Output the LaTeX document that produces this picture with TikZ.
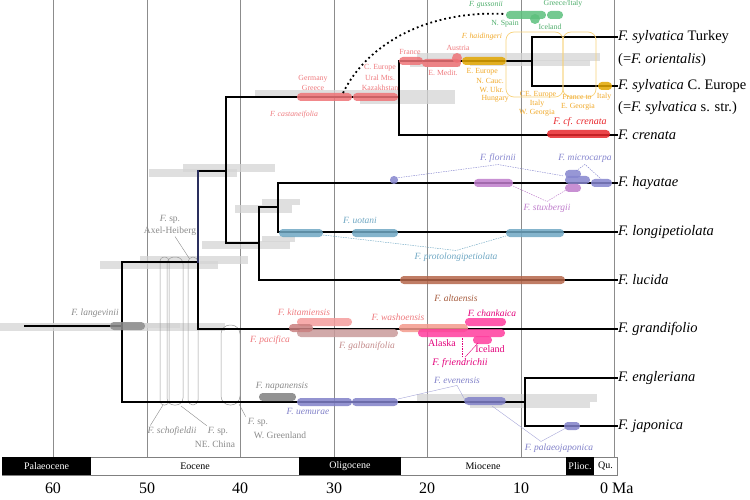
\documentclass[tikz,border=0pt]{standalone}
\usepackage{fontspec}
\setmainfont{Liberation Serif}
\definecolor{castc}{HTML}{EF7377}
\definecolor{castT}{HTML}{EE7A7E}
\definecolor{goldc}{HTML}{E2A600}
\definecolor{goldT}{HTML}{F0A92A}
\definecolor{goldB}{HTML}{F7D27A}
\definecolor{grnc}{HTML}{5CBF7C}
\definecolor{grnT}{HTML}{4FAE6C}
\definecolor{crenc}{HTML}{E8262B}
\definecolor{hayc}{HTML}{8585CE}
\definecolor{stuxc}{HTML}{BE7CCB}
\definecolor{lonc}{HTML}{6FA7C3}
\definecolor{altc}{HTML}{B5664A}
\definecolor{altT}{HTML}{A55A3C}
\definecolor{kitc}{HTML}{F59C9C}
\definecolor{pacc}{HTML}{C97F7F}
\definecolor{galc}{HTML}{C99A9A}
\definecolor{galT}{HTML}{C48C8C}
\definecolor{washc}{HTML}{F39A8C}
\definecolor{pinkc}{HTML}{FF3C9E}
\definecolor{pinkT}{HTML}{E2007A}
\definecolor{uemc}{HTML}{8080C8}
\definecolor{grayT}{HTML}{8A8A8A}
\definecolor{navyc}{HTML}{2A2F5E}
\newcommand\FBar[5][]{\fill[#2,opacity=0.85,rounded corners=3.8pt,#1] (#3,#5-4) rectangle (#4,#5+4);}
\newcommand\CBar[4]{\fill[black!17,opacity=0.75] (#1,#3-#4/2) rectangle (#2,#3+#4/2);}
\begin{document}
\begin{tikzpicture}[x=1pt,y=-1pt,
  gline/.style={draw=black!45,line width=0.9pt},
  branch/.style={line width=2.4pt,line cap=rect,line join=miter},
  lab/.style={inner sep=0pt,font=\fontsize{9.5}{10}\selectfont},
  slab/.style={inner sep=0pt,font=\fontsize{7.8}{8.5}\selectfont},
  tiplab/.style={anchor=west,inner sep=1pt,font=\fontsize{14.5}{16}\selectfont},
  erat/.style={inner sep=0pt,font=\fontsize{10}{11}\selectfont},
  ticklab/.style={inner sep=0pt,font=\fontsize{16}{17}\selectfont},
  lead/.style={line width=0.45pt,dash pattern=on 1.5pt off 1pt},
  leads/.style={line width=0.4pt},
]
\useasboundingbox (0,0) rectangle (750,500);
% grid lines
\foreach \x in {53,147,240,334,427,521,614} \draw[gline] (\x,0) -- (\x,457);
% time bar
\draw[black!50,line width=0.8pt] (2,457) rectangle (617,475);
\fill[black] (2,457) rectangle (91,475);
\fill[black] (299,457) rectangle (401,475);
\fill[black] (566,457) rectangle (594,475);
\node[erat,text=white] (ePal) at (46.5,466) {Palaeocene};
\node[erat] (eEoc) at (195,466) {Eocene};
\node[erat,text=white] (eOli) at (350,466) {Oligocene};
\node[erat] (eMio) at (483,466) {Miocene};
\node[erat,text=white] (ePli) at (580,466) {Plioc.};
\node[erat] (eQu) at (605.5,466) {Qu.};
\node[ticklab] (k60) at (53,488) {60};
\node[ticklab] (k50) at (147,488) {50};
\node[ticklab] (k40) at (240,488) {40};
\node[ticklab] (k30) at (334,488) {30};
\node[ticklab] (k20) at (427,488) {20};
\node[ticklab] (k10) at (521,488) {10};
\node[ticklab,anchor=west] (k0) at (600,488) {0 Ma};
% grey confidence bars
\CBar{0}{225}{327}{8}
\CBar{40}{180}{325}{5}
\CBar{100}{218}{265}{8}
\CBar{140}{248}{260}{8}
\CBar{149}{237}{173}{8}
\CBar{183}{275}{168}{8}
\CBar{255}{455}{94}{7}
\CBar{360}{455}{101}{7}
\CBar{417}{600}{57}{8}
\CBar{470}{590}{63}{6}
\CBar{410}{460}{64}{6}
\CBar{235}{292}{209}{8}
\CBar{262}{300}{202}{6}
\CBar{202}{290}{245}{8}
\CBar{262}{295}{239}{6}
\CBar{417}{597}{398}{8}
\CBar{470}{590}{405}{6}
% fossil site outlines
\draw[black!40,line width=0.5pt,rounded corners=4pt] (160,257) rectangle (169,405);
\draw[black!40,line width=0.5pt,rounded corners=7pt] (167,257) rectangle (183,405);
\draw[black!40,line width=0.5pt,rounded corners=5pt] (188,257) rectangle (198,405);
\draw[black!40,line width=0.5pt,rounded corners=9pt] (221,325) rectangle (240,405);
% tip labels
\node[tiplab] (tST) at (617,37) {\textit{F. sylvatica} Turkey};
\node[tiplab] (tST2) at (617,60) {(=\textit{F. orientalis})};
\node[tiplab] (tSC) at (617,86) {\textit{F. sylvatica} C. Europe};
\node[tiplab] (tSC2) at (617,108) {(=\textit{F. sylvatica} s. str.)};
\node[tiplab] (tCr) at (617,135) {\textit{F. crenata}};
\node[tiplab] (tHa) at (617,183) {\textit{F. hayatae}};
\node[tiplab] (tLo) at (617,232) {\textit{F. longipetiolata}};
\node[tiplab] (tLu) at (617,280) {\textit{F. lucida}};
\node[tiplab] (tGr) at (617,329) {\textit{F. grandifolio}};
\node[tiplab] (tEn) at (617,378) {\textit{F. engleriana}};
\node[tiplab] (tJa) at (617,426) {\textit{F. japonica}};
% tree coordinates
\coordinate (r0) at (25,326);
\coordinate (r1) at (122,326);
\coordinate (a1) at (122,262);
\coordinate (a2) at (122,402);
\coordinate (b1) at (198,171);
\coordinate (b0) at (198,262);
\coordinate (b2) at (198,329);
\coordinate (c0) at (226,171);
\coordinate (c1) at (226,97);
\coordinate (c2) at (226,243);
\coordinate (d0) at (399,97);
\coordinate (d1) at (399,61);
\coordinate (d2) at (399,135);
\coordinate (e0) at (532,61);
\coordinate (e1) at (532,37);
\coordinate (e2) at (532,86);
\coordinate (f0) at (259,243);
\coordinate (f1) at (259,207);
\coordinate (f2) at (259,280);
\coordinate (g0) at (278,207);
\coordinate (g1) at (278,183);
\coordinate (g2) at (278,232);
\coordinate (h0) at (525,402);
\coordinate (h1) at (525,378);
\coordinate (h2) at (525,426);
% tree
\draw[branch] (r0) -- (r1);
\draw[branch] (b0) -- (a1) -- (a2) -- (h0);
\draw[branch] (tEn.west) -- (h1) -- (h2) -- (tJa.west);
\draw[branch] (b0) -- (b2) -- (tGr.west);
\draw[branch] (b1) -- (c0);
\draw[branch,navyc] (b1) -- (b0);
\draw[branch] (d0) -- (c1) -- (c2) -- (f0);
\draw[branch] (tCr.west) -- (d2) -- (d1) -- (e0);
\draw[branch] (tST.west) -- (e1) -- (e2) -- (tSC.west);
\draw[branch] (g0) -- (f1) -- (f2) -- (tLu.west);
\draw[branch] (tHa.west) -- (g1) -- (g2) -- (tLo.west);
% langevinii
\FBar{black!45}{110}{145}{326}
% castaneifolia group
\FBar{castc}{297}{352}{97}
\FBar{castc}{353}{398}{97}
\FBar{castc}{399}{423}{61}
\FBar{castc}{422}{461}{63}
\fill[castc,opacity=0.85] (457,58) circle (5);
\FBar{goldc}{462}{506}{61}
\FBar{goldc}{598}{612}{86}
\draw[goldB,line width=0.7pt,rounded corners=8pt] (506,32) rectangle (563,97);
\draw[goldB,line width=0.7pt,rounded corners=8pt] (563,32) rectangle (596,97);
\FBar{grnc}{506}{546}{15}
\FBar{grnc}{547}{563}{15}
\fill[grnc,opacity=0.85] (535,19) circle (5);
\coordinate (gus0) at (343,93);
\coordinate (gus1) at (505,14);
\draw[line width=1.8pt,dash pattern=on 1.8pt off 3pt] (gus0) .. controls (368,42) and (430,10) .. (gus1);
\FBar{crenc}{547}{610}{134}
% hayatae
\FBar{hayc}{390}{398}{180}
\FBar{stuxc}{474}{513}{183}
\FBar{hayc}{565}{581}{174}
\FBar{hayc}{565}{590}{180}
\FBar{stuxc}{565}{581}{188}
\FBar{hayc}{591}{612}{183}
% longipetiolata
\FBar{lonc}{279}{323}{233}
\FBar{lonc}{352}{398}{233}
\FBar{lonc}{506}{564}{233}
% lucida
\FBar{altc}{400}{565}{280}
% grandifolia
\FBar{kitc}{297}{352}{322}
\FBar{galc}{297}{398}{333}
\FBar{pacc}{289}{313}{328}
\FBar{washc}{399}{468}{328}
\FBar{pinkc}{418}{505}{333}
\FBar{pinkc}{465}{506}{322}
\FBar{pinkc}{473}{492}{340}
% lower clade
\FBar{black!50}{259}{296}{397}
\FBar{uemc}{297}{352}{402}
\FBar{uemc}{352}{398}{402}
\FBar[rounded corners=4.5pt]{uemc}{464}{506}{401}
\FBar{uemc}{564}{580}{426}
% ---- labels ----
\node[slab,text=castT] (lGer) at (313,79) {Germany};
\node[slab,text=castT] (lGre) at (313,88) {Greece};
\node[slab,text=castT] (lCEu) at (380,68) {C. Europe};
\node[slab,text=castT] (lUra) at (380,78) {Ural Mts.};
\node[slab,text=castT] (lKaz) at (380,88) {Kazakhstan};
\node[slab,text=castT] (lFra) at (410,52) {France};
\node[slab,text=castT] (lAus) at (458,48) {Austria};
\node[slab,text=castT] (lEMe) at (443,73) {E. Medit.};
\node[slab,text=castT] (lcast) at (294,115) {\textit{F. castaneifolia}};
\node[slab,text=goldT] (lhaid) at (482,37) {\textit{F. haidingeri}};
\node[slab,text=goldT,anchor=east] (lEEu) at (498,72) {E. Europe};
\node[slab,text=goldT,anchor=east] (lNC) at (504,81) {N. Cauc.};
\node[slab,text=goldT,anchor=east] (lWU) at (504,90) {W. Ukr.};
\node[slab,text=goldT,anchor=east] (lHun) at (509,99) {Hungary};
\node[slab,text=goldT] (lCE) at (538,95) {CE. Europe};
\node[slab,text=goldT] (lIt1) at (537,104) {Italy};
\node[slab,text=goldT] (lWG) at (537,113) {W. Georgia};
\node[slab,text=goldT] (lFt) at (577,97) {France to};
\node[slab,text=goldT] (lEG) at (578,107) {E. Georgia};
\node[slab,text=goldT] (lIt2) at (604,97) {Italy};
\node[slab,text=grnT] (lgus) at (486,5) {\textit{F. gussonii}};
\node[slab,text=grnT] (lGI) at (563,4) {Greece/Italy};
\node[slab,text=grnT] (lNS) at (505,24) {N. Spain};
\node[slab,text=grnT] (lIc1) at (550,27) {Iceland};
\node[lab,font=\fontsize{10}{11}\selectfont,text=crenc] (lcren) at (580,122) {\textit{F. cf. crenata}};
\node[lab,text=hayc] (lflo) at (498,158) {\textit{F. florinii}};
\node[lab,text=hayc] (lmic) at (585,158) {\textit{F. microcarpa}};
\node[lab,text=stuxc] (lstux) at (547,208) {\textit{F. stuxbergii}};
\node[lab,text=lonc] (luot) at (360,220) {\textit{F. uotani}};
\node[lab,text=lonc] (lprot) at (456,257) {\textit{F. protolongipetiolata}};
\node[lab,text=altT] (lalt) at (456,298) {\textit{F. altaensis}};
\node[lab,text=castT] (lkit) at (304,312) {\textit{F. kitamiensis}};
\node[lab,text=castT] (lpac) at (270,340) {\textit{F. pacifica}};
\node[lab,text=galT] (lgal) at (367,346) {\textit{F. galbanifolia}};
\node[lab,text=castT] (lwas) at (398,317) {\textit{F. washoensis}};
\node[lab,text=pinkT] (lcha) at (492,313) {\textit{F. chankaica}};
\node[lab,font=\fontsize{10}{11}\selectfont,text=pinkT] (lAla) at (442,343) {Alaska};
\node[lab,font=\fontsize{10}{11}\selectfont,text=pinkT] (lIc2) at (490,349) {Iceland};
\node[lab,font=\fontsize{10}{11}\selectfont,text=pinkT] (lfri) at (460,363) {\textit{F. friendrichii}};
\node[lab,text=grayT] (lnap) at (282,386) {\textit{F. napanensis}};
\node[lab,text=uemc] (luem) at (308,411) {\textit{F. uemurae}};
\node[lab,text=uemc] (leve) at (457,380) {\textit{F. evenensis}};
\node[lab,text=uemc] (lpal) at (559,448) {\textit{F. palaeojaponica}};
\node[lab,text=grayT] (llan) at (95,313) {\textit{F. langevinii}};
\node[lab,text=grayT] (lAx1) at (170,219) {\textit{F.} sp.};
\node[lab,text=grayT] (lAx2) at (170,231) {Axel-Heiberg};
\node[lab,text=grayT] (lsch) at (172,431) {\textit{F. schofieldii}};
\node[lab,text=grayT] (lNE1) at (218,431) {\textit{F.} sp.};
\node[lab,text=grayT] (lNE2) at (215,444) {NE. China};
\node[lab,text=grayT] (lWG1) at (258,422) {\textit{F.} sp.};
\node[lab,text=grayT] (lWG2) at (280,435) {W. Greenland};
% leader lines
\coordinate (pflo1) at (396,178);
\coordinate (pflo2) at (564,176);
\draw[lead,hayc] (pflo1) -- ([yshift=-2pt]lflo.south) -- (pflo2);
\coordinate (pmic1) at (576,171);
\coordinate (pmic2) at (601,179);
\draw[lead,hayc] (pmic1) -- ([yshift=-2pt]lmic.south) -- (pmic2);
\coordinate (pstu1) at (513,186);
\coordinate (pstu2) at (566,190);
\draw[lead,stuxc] (pstu1) -- ([yshift=2pt]lstux.north) -- (pstu2);
\coordinate (plon1) at (323,235);
\coordinate (plon2) at (506,236);
\draw[lead,lonc] (plon1) -- ([yshift=2pt]lprot.north) -- (plon2);
\coordinate (pfri1) at (462,338);
\coordinate (pfri2) at (478,343);
\draw[lead,pinkT] ([xshift=2pt,yshift=1pt]lfri.north) -- (pfri1);
\draw[leads,pinkT] ([xshift=5pt,yshift=1pt]lfri.north) -- (pfri2);
\coordinate (peve1) at (398,399);
\coordinate (peve2) at (465,400);
\draw[leads,uemc!70] (peve1) -- ([yshift=-2pt]leve.south) -- (peve2);
\coordinate (ppal1) at (492,406);
\coordinate (ppal2) at (566,428);
\draw[leads,uemc!70] (ppal1) -- ([xshift=-18pt,yshift=2pt]lpal.north) -- (ppal2);
\coordinate (pax) at (189,258);
\draw[leads,grayT] ([xshift=5pt,yshift=-1pt]lAx2.south) -- (pax);
\coordinate (psch) at (163,405);
\draw[leads,grayT] ([xshift=3pt,yshift=1pt]lsch.north west) -- (psch);
\coordinate (pne) at (181,406);
\draw[leads,grayT] ([xshift=-1pt,yshift=1pt]lNE1.north west) -- (pne);
\coordinate (pwg) at (239,404);
\draw[leads,grayT] ([xshift=-2pt,yshift=1pt]lWG1.north west) -- (pwg);
\end{tikzpicture}
\end{document}
